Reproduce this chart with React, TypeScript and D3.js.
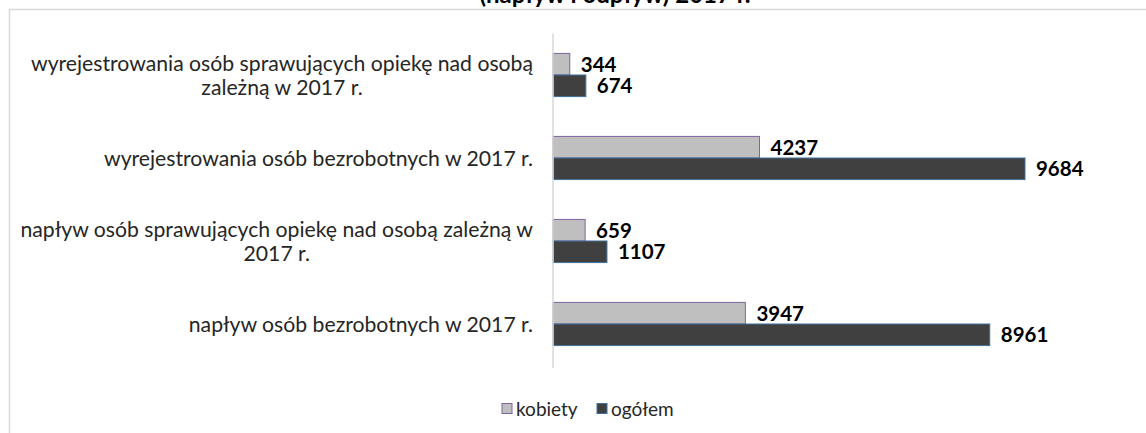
import React, { useEffect, useRef } from 'react';
import * as d3 from 'd3';

const categories = [
  ['wyrejestrowania osób sprawujących opiekę nad osobą', 'zależną w 2017 r.'],
  ['wyrejestrowania osób bezrobotnych w 2017 r.'],
  ['napływ osób sprawujących opiekę nad osobą zależną w', '2017 r.'],
  ['napływ osób bezrobotnych w 2017 r.'],
];
const kobiety = [344, 4237, 659, 3947];
const ogolem = [674, 9684, 1107, 8961];
const seriesNames = ['kobiety', 'ogółem'];

const FONT = 'Lato, "Open Sans", sans-serif';

const App = () => {
  const ref = useRef<SVGSVGElement>(null);

  useEffect(() => {
    const svg = d3.select(ref.current);
    svg.selectAll('*').remove();

    const width = 1146;
    const height = 433;
    const x0 = 553;

    svg
      .append('rect')
      .attr('x', 9.5)
      .attr('y', 9.5)
      .attr('width', width + 20)
      .attr('height', height + 20)
      .attr('fill', '#fff')
      .attr('stroke', '#d9d9d9')
      .attr('stroke-width', 1.5);

    // title (cut at the top edge, like the source)
    svg
      .append('text')
      .attr('x', 615)
      .attr('y', 3)
      .attr('text-anchor', 'middle')
      .attr('font-family', FONT)
      .attr('font-weight', 'bold')
      .attr('font-size', 24)
      .attr('fill', '#000')
      .text('(napływ i odpływ) 2017 r.');

    const xScale = d3.scaleLinear().domain([0, 10000]).range([x0, x0 + 487.4]);

    const yScale = d3
      .scaleBand<number>()
      .domain(d3.range(categories.length))
      .range([33.5, 365.5])
      .paddingInner(0.48)
      .paddingOuter(0.24);

    const inner = d3
      .scaleBand<number>()
      .domain([0, 1])
      .range([0, yScale.bandwidth()]);

    const series = [
      { values: kobiety, fill: '#bfbfbf', stroke: '#8064a2' },
      { values: ogolem, fill: '#404040', stroke: '#41719c' },
    ];

    series.forEach((s, si) => {
      const g = svg.append('g');
      g.selectAll('rect')
        .data(s.values)
        .enter()
        .append('rect')
        .attr('x', xScale(0))
        .attr('y', (_d, i) => (yScale(i) as number) + (inner(si) as number))
        .attr('width', (d) => xScale(d) - xScale(0))
        .attr('height', inner.bandwidth())
        .attr('fill', s.fill)
        .attr('stroke', s.stroke)
        .attr('stroke-width', 1);

      g.selectAll('text')
        .data(s.values)
        .enter()
        .append('text')
        .attr('x', (d) => xScale(d) + 11)
        .attr('y', (_d, i) => (yScale(i) as number) + (inner(si) as number) + inner.bandwidth() / 2)
        .attr('dy', '0.36em')
        .attr('font-family', FONT)
        .attr('font-weight', 'bold')
        .attr('font-size', 20.5)
        .attr('fill', '#000')
        .text((d) => d);
    });

    // axis line
    svg
      .append('line')
      .attr('x1', x0)
      .attr('x2', x0)
      .attr('y1', 33.5)
      .attr('y2', 368)
      .attr('stroke', '#d9d9d9')
      .attr('stroke-width', 1.5);

    // category labels: lines centred within a right-aligned block
    const lineH = 24;
    categories.forEach((lines, i) => {
      const cy = (yScale(i) as number) + yScale.bandwidth() / 2;
      const t = svg
        .append('text')
        .attr('font-family', FONT)
        .attr('font-size', 21.2)
        .attr('fill', '#262626');
      const spans = lines.map((ln, li) =>
        t
          .append('tspan')
          .attr('y', cy + (li - (lines.length - 1) / 2) * lineH)
          .attr('dy', '0.36em')
          .text(ln)
      );
      const maxW = d3.max(spans, (sp) => (sp.node() as SVGTSpanElement).getComputedTextLength()) || 0;
      const center = 533 - maxW / 2;
      spans.forEach((sp) => sp.attr('x', center).attr('text-anchor', 'middle'));
    });

    // legend
    const legendX = [502, 597];
    series.forEach((s, si) => {
      svg
        .append('rect')
        .attr('x', legendX[si])
        .attr('y', 403.5)
        .attr('width', 10)
        .attr('height', 10)
        .attr('fill', s.fill)
        .attr('stroke', s.stroke);
      svg
        .append('text')
        .attr('x', legendX[si] + 14)
        .attr('y', 409)
        .attr('dy', '0.36em')
        .attr('font-family', FONT)
        .attr('font-size', 19)
        .attr('fill', '#262626')
        .text(seriesNames[si]);
    });
  }, []);

  return <svg ref={ref} width={1146} height={433} style={{ position: 'absolute', left: 0, top: 0 }} />;
};

export default App;
